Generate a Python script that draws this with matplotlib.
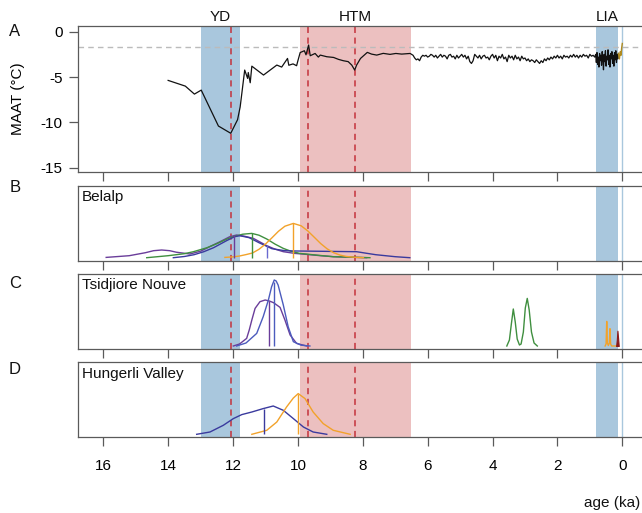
import numpy as np
import matplotlib
matplotlib.use("Agg")
import matplotlib.pyplot as plt
import matplotlib.transforms as mtransforms

plt.rcParams['font.family'] = ['Liberation Sans', 'DejaVu Sans']
plt.rcParams['font.size'] = 11

# ---------------- data ----------------
xticks = [16, 14, 12, 10, 8, 6, 4, 2, 0]
xtick_labels = ['16', '14', '12', '10', '8', '6', '4', '2', '0']
yticks_A = [0, -5, -10, -15]
ytick_labels_A = ['0', '-5', '-10', '-15']

# shaded periods (ka)
yd_span = (13.0, 11.8)
htm_span = (9.95, 6.5)
lia_span = (0.81, 0.12)
event_lines = [12.07, 9.69, 8.23]
present_line = 0.01
maat_ref = -1.7

# MAAT reconstruction: late glacial / early Holocene part
maat_early_age = [14.0, 13.47, 13.19, 12.98, 12.45, 12.07, 11.86, 11.78, 11.64, 11.55, 11.53, 11.47,
                  11.42, 11.06, 10.65, 10.5, 10.32, 10.28, 10.15, 10.04, 10.0, 9.93, 9.8, 9.75,
                  9.67, 9.62, 9.47, 9.37, 9.31, 9.11, 8.9, 8.75, 8.6, 8.45, 8.34, 8.25, 8.19,
                  8.07, 7.86, 7.73, 7.57, 7.37, 7.16, 6.98, 6.8, 6.54]
maat_early_val = [-5.37, -6.0, -6.88, -6.44, -10.4, -11.2, -9.7, -8.3, -4.23, -5.15, -4.5, -5.63,
                  -3.8, -4.78, -3.68, -3.9, -2.95, -3.7, -3.55, -3.75, -3.2, -2.3, -2.1, -2.55,
                  -1.47, -2.65, -2.4, -2.8, -2.58, -2.76, -2.84, -3.05, -3.2, -3.3, -3.68, -4.23, -3.68,
                  -2.95, -2.28, -2.47, -2.58, -2.39, -2.5, -2.4, -2.47, -2.4]
# mid/late Holocene part, every 0.05 ka from 6.45 to 0.85 ka
maat_holo_start, maat_holo_step = 6.45, 0.05
maat_holo_val = [-2.6, -2.9, -3.1, -3.0, -3.2, -2.8, -2.6, -2.7, -2.6, -2.8,
                 -2.7, -2.5, -2.6, -2.8, -2.6, -2.9, -2.7, -2.5, -2.8, -2.6,
                 -2.7, -3.0, -2.6, -2.5, -2.8, -2.7, -3.0, -2.6, -2.9, -2.7,
                 -2.5, -2.8, -2.6, -3.0, -2.7, -3.3, -3.5, -3.2, -2.5, -2.7,
                 -2.9, -2.6, -3.0, -2.7, -2.6, -2.9, -2.8, -3.1, -2.7, -2.5,
                 -2.9, -2.6, -3.2, -2.7, -2.9, -2.5, -3.0, -2.8, -3.3, -2.6,
                 -2.9, -2.7, -3.1, -2.6, -3.0, -2.8, -3.2, -2.7, -3.0, -2.9,
                 -3.2, -3.0, -3.3, -3.1, -3.2, -3.4, -3.1, -3.3, -3.5, -3.2,
                 -3.4, -3.0, -3.2, -2.9, -3.1, -2.8, -3.0, -2.7, -2.9, -2.6,
                 -2.9, -2.7, -3.0, -2.6, -2.8, -2.7, -2.9, -2.6, -2.8, -2.5,
                 -2.8, -2.6, -2.9, -2.6, -2.8, -2.5, -2.7, -2.6, -2.9, -2.5,
                 -2.7, -2.6, -2.8]
# Little Ice Age part, every 0.02 ka from 0.82 to 0.12 ka
maat_lia_start, maat_lia_step = 0.82, 0.02
maat_lia_val = [-2.5, -3.4, -2.3, -3.6, -2.8, -3.9, -2.4, -3.2, -2.6, -3.7, -2.2, -3.0,
                -4.2, -2.5, -3.3, -2.1, -3.8, -2.7, -3.1, -2.0, -3.6, -2.6, -3.9, -2.4,
                -3.0, -2.2, -3.5, -2.6, -3.8, -2.3, -3.1, -2.1, -3.4, -2.5, -3.0, -2.4]
# instrumental period
maat_inst_age = [0.12, 0.09, 0.06, 0.04, 0.02, 0.0]
maat_inst_val = [-2.4, -3.0, -2.2, -2.6, -1.8, -1.3]

# ---- exposure-age probability curves (arbitrary units) ----
# Belalp
bel_purple_age = [15.91, 15.2, 14.7, 14.45, 14.2, 13.95, 13.75, 13.33, 13.0, 12.72, 12.4, 12.1, 11.89,
                  11.65, 11.37, 11.1, 10.96, 10.7, 10.45, 10.1, 9.73, 9.3, 8.91, 7.88]
bel_purple_val = [0.3, 2.0, 5.0, 7.0, 7.7, 7.0, 5.5, 3.7, 6.5, 11.0, 16.0, 21.0, 22.7,
                  21.5, 19.3, 14.5, 12.0, 8.5, 6.0, 4.3, 3.3, 2.0, 1.0, 0.0]
bel_green_age = [14.66, 14.0, 13.5, 13.22, 12.8, 12.5, 12.2, 11.99, 11.7, 11.42, 11.2, 10.96, 10.7,
                 10.45, 10.2, 9.94, 9.4, 8.91, 7.78]
bel_green_val = [0.0, 2.0, 4.0, 6.0, 10.0, 14.0, 18.5, 21.0, 23.5, 24.3, 22.5, 18.7, 13.5,
                 9.3, 6.3, 4.3, 2.5, 1.0, 0.0]
bel_blue_age = [13.84, 13.5, 13.2, 12.9, 12.6, 12.2, 11.95, 11.79, 11.5, 11.2, 10.8, 10.4, 10.04,
                9.5, 9.0, 8.19, 7.9, 7.6, 7.0, 6.55]
bel_blue_val = [0.0, 1.2, 3.0, 6.0, 10.0, 17.0, 21.0, 22.0, 20.0, 15.0, 9.0, 7.0, 6.7,
                6.5, 6.3, 6.0, 4.5, 3.0, 1.0, 0.0]
bel_orange_age = [12.25, 12.0, 11.8, 11.6, 11.4, 11.2, 11.0, 10.8, 10.6, 10.4, 10.14, 9.9, 9.7,
                  9.5, 9.3, 9.1, 8.9, 8.7, 8.5, 8.2, 7.98]
bel_orange_val = [0.3, 0.8, 1.7, 3.1, 4.7, 8.4, 13.6, 19.9, 26.4, 31.5, 34.3, 31.9, 26.9,
                  20.6, 14.2, 8.9, 5.0, 2.6, 1.2, 0.3, 0.0]
bel_medians_age = [11.96, 11.42, 10.96, 10.14]
bel_medians_val = [22.5, 24.3, 12.7, 34.3]

# Tsidjiore Nouve
tsi_blue_age = [11.89, 11.6, 11.27, 11.07, 10.91, 10.81, 10.73, 10.67, 10.61, 10.45, 10.3, 10.14, 9.9, 9.63]
tsi_blue_val = [0.0, 3.0, 12.6, 29.3, 46.0, 59.3, 66.0, 65.0, 61.0, 41.0, 19.3, 4.3, 0.8, 0.0]
tsi_purple_age = [11.99, 11.8, 11.58, 11.5, 11.42, 11.32, 11.17, 11.01, 10.88, 10.75, 10.55, 10.4,
                  10.24, 10.04, 9.73]
tsi_purple_val = [0.0, 2.0, 7.6, 16.0, 26.0, 37.6, 44.3, 46.0, 45.0, 43.3, 38.6, 26.0,
                  11.0, 2.6, 0.0]
tsi_green_age = [3.56, 3.48, 3.42, 3.36, 3.30, 3.24, 3.17, 3.12, 3.05, 2.99, 2.93, 2.87, 2.80, 2.72, 2.62]
tsi_green_val = [0.0, 6.0, 22.0, 37.0, 24.0, 7.0, 1.0, 2.0, 14.0, 38.0, 47.6, 36.0, 14.0, 3.0, 0.0]
tsi_orange_age = [0.53, 0.50, 0.48, 0.46, 0.43, 0.40, 0.38, 0.36, 0.33, 0.20, 0.12]
tsi_orange_val = [0.0, 2.0, 24.6, 3.0, 0.5, 3.0, 17.3, 2.0, 0.0, 0.0, 0.0]
tsi_red_age = [0.19, 0.17, 0.15, 0.13, 0.11]
tsi_red_val = [0.0, 6.0, 15.3, 8.0, 0.0]
tsi_medians_age = [10.88, 10.75]
tsi_medians_val = [45.0, 64.0]

# Hungerli Valley
hun_blue_age = [13.12, 12.71, 12.3, 11.99, 11.73, 11.42, 11.07, 10.76, 10.45, 10.14, 9.83, 9.53, 9.11]
hun_blue_val = [0.0, 2.3, 9.0, 15.7, 19.7, 22.3, 25.7, 28.3, 24.0, 15.7, 7.3, 2.3, 0.0]
hun_orange_age = [11.42, 10.96, 10.65, 10.35, 10.14, 9.99, 9.78, 9.53, 9.22, 8.91, 8.39]
hun_orange_val = [0.0, 4.0, 12.3, 27.3, 36.3, 40.7, 35.7, 22.3, 10.7, 4.0, 0.0]
hun_medians_age = [11.05, 9.99]
hun_medians_val = [25.7, 40.7]

# ---------------- styling ----------------
W, H = 642, 513
BLUE_SPAN = '#a9c7dd'
RED_SPAN = '#ecc0c0'
RED_LINE = '#c4323c'
SPINE = '#5a5a5a'
C_PURPLE = '#6a3d9a'
C_GREEN = '#3f8f3f'
C_BLUE = '#3a3a9e'
C_BLUE2 = '#4b5bbd'
C_ORANGE = '#f2a22a'
C_DARKRED = '#8b1a1a'

x_left_px, x_right_px = 78.3, 700
px_per_ka, zero_px = 32.44, 622.3
xlim = ((zero_px - x_left_px) / px_per_ka, (zero_px - x_right_px) / px_per_ka)


def make_axes(top, bottom):
    return fig.add_axes([x_left_px / W, 1 - bottom / H, (x_right_px - x_left_px) / W, (bottom - top) / H])


fig = plt.figure(figsize=(W / 100, H / 100), dpi=100)

axA = make_axes(25.7, 172.3)
axB = make_axes(185.7, 260.7)
axC = make_axes(274.0, 349.0)
axD = make_axes(362.3, 437.3)

for ax in (axA, axB, axC, axD):
    ax.set_xlim(*xlim)
    ax.axvspan(*yd_span, color=BLUE_SPAN, lw=0, zorder=0)
    ax.axvspan(*htm_span, color=RED_SPAN, lw=0, zorder=0)
    ax.axvspan(*lia_span, color=BLUE_SPAN, lw=0, zorder=0)
    ax.axvline(present_line, color=BLUE_SPAN, lw=1.0, zorder=0.5)
    for a in event_lines:
        ax.axvline(a, color=RED_LINE, lw=1.1, ls=(0, (4, 3)), zorder=1)
    for s in ax.spines.values():
        s.set_color(SPINE)
        s.set_linewidth(0.9)
    ax.set_xticks(xticks)
    ax.tick_params(axis='x', direction='out', length=6.2, width=0.9, color=SPINE, pad=9.5)
    ax.set_xticklabels([])

# ---- panel A ----
axA.set_ylim(-15.5, 0.66)
axA.set_yticks(yticks_A)
axA.set_yticklabels(ytick_labels_A)
axA.tick_params(axis='y', direction='out', length=6.2, width=0.9, color=SPINE, pad=5)
axA.axhline(maat_ref, color='#bbbbbb', lw=1.0, ls=(0, (4, 3)), zorder=1)
holo_age = maat_holo_start - maat_holo_step * np.arange(len(maat_holo_val))
lia_age = maat_lia_start - maat_lia_step * np.arange(len(maat_lia_val))
all_age = np.concatenate([maat_early_age, holo_age, lia_age])
all_val = np.concatenate([maat_early_val, maat_holo_val, maat_lia_val])
axA.plot(all_age, all_val, color='#111111', lw=0.9, zorder=3)
axA.plot(maat_inst_age, maat_inst_val, color='#b08a1e', lw=1.0, zorder=3)
axA.set_ylabel('MAAT (°C)')
axA.yaxis.set_label_coords((25 - x_left_px) / (x_right_px - x_left_px), 0.5)

# ---- panel B-D ----
for ax in (axB, axC, axD):
    ax.set_ylim(-3, 72)
    ax.set_yticks([])

axB.plot(bel_purple_age, bel_purple_val, color=C_PURPLE, lw=1.0, zorder=3)
axB.plot(bel_green_age, bel_green_val, color=C_GREEN, lw=1.0, zorder=3)
axB.plot(bel_blue_age, bel_blue_val, color=C_BLUE, lw=1.0, zorder=3)
axB.plot(bel_orange_age, bel_orange_val, color=C_ORANGE, lw=1.0, zorder=3)
axB.vlines(bel_medians_age, 0, bel_medians_val, colors=[C_PURPLE, C_GREEN, '#6a6ad0', C_ORANGE], lw=1.0, zorder=3)

axC.plot(tsi_purple_age, tsi_purple_val, color=C_PURPLE, lw=1.0, zorder=3)
axC.plot(tsi_blue_age, tsi_blue_val, color=C_BLUE2, lw=1.0, zorder=3)
axC.vlines(tsi_medians_age, 0, tsi_medians_val, colors=[C_PURPLE, C_BLUE2], lw=1.0, zorder=3)
axC.plot(tsi_green_age, tsi_green_val, color=C_GREEN, lw=1.0, zorder=3)
axC.plot(tsi_orange_age, tsi_orange_val, color=C_ORANGE, lw=1.0, zorder=3)
axC.fill_between(tsi_red_age, 0, tsi_red_val, color=C_DARKRED, lw=0.8, zorder=3)

axD.plot(hun_blue_age, hun_blue_val, color=C_BLUE, lw=1.0, zorder=3)
axD.plot(hun_orange_age, hun_orange_val, color=C_ORANGE, lw=1.0, zorder=3)
axD.vlines(hun_medians_age, 0, hun_medians_val, colors=[C_BLUE, C_ORANGE], lw=1.0, zorder=3)
axD.set_xticklabels(xtick_labels)

# site names
for ax, name in ((axB, 'Belalp'), (axC, 'Tsidjiore Nouve'), (axD, 'Hungerli Valley')):
    ax.text(0.006, 0.85, name, transform=ax.transAxes, ha='left', va='center', color='#111111')

# period labels on top
trans = mtransforms.blended_transform_factory(axA.transData, fig.transFigure)
for lab, span in (('YD', yd_span), ('HTM', htm_span), ('LIA', lia_span)):
    axA.text(sum(span) / 2, 1 - 17 / H, lab, transform=trans, ha='center', va='center', color='#111111')

# panel letters
for lab, ypx in (('A', 32), ('B', 188), ('C', 283), ('D', 370)):
    fig.text(15 / W, 1 - ypx / H, lab, ha='center', va='center', fontsize=12, color='#111111')

fig.text(612 / W, 1 - 502.7 / H, 'age (ka)', ha='center', va='center', color='#111111')

fig.savefig('out.png', dpi=100)
